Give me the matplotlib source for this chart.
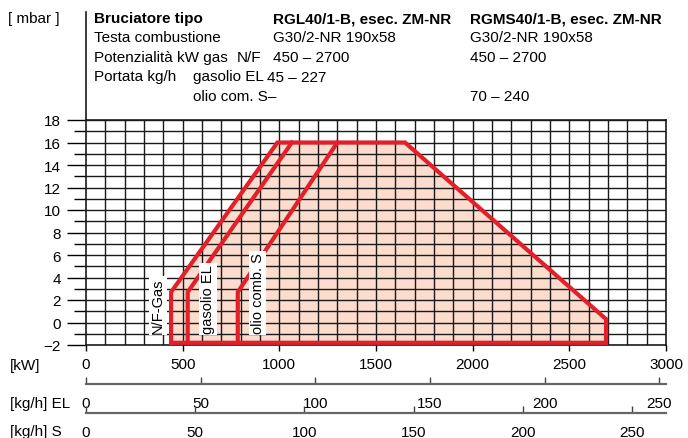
import matplotlib
matplotlib.use("Agg")
import matplotlib.pyplot as plt
from matplotlib.lines import Line2D
import numpy as np

plt.rcParams['font.family'] = ['Liberation Sans', 'DejaVu Sans']

# -----------------------------
# Data
# -----------------------------
# working field outline for N/F gas [kW, mbar]
nf_kw = [440, 440, 990, 1650, 2690, 2690, 440]
nf_mbar = [-1.8, 2.7, 16, 16, 0.3, -1.8, -1.8]
# left branches for light oil (EL) and heavy oil (S)
el_kw = [526, 526, 1065]
el_mbar = [-1.8, 2.7, 16]
s_kw = [785, 785, 1300]
s_mbar = [-1.8, 2.7, 16]

kw_ticks = [0, 500, 1000, 1500, 2000, 2500, 3000]
mbar_ticks = [-2, 0, 2, 4, 6, 8, 10, 12, 14, 16, 18]
kgh_ticks = [0, 50, 100, 150, 200, 250]
kw_per_kgh_el = 11.86
kw_per_kgh_s = 11.3

field_labels = ["N/F-Gas", "gasolio EL", "olio comb. S"]
field_label_kw = [372, 631, 888]

header_rows = [
    ("Bruciatore tipo", "", "RGL40/1-B, esec. ZM-NR", "RGMS40/1-B, esec. ZM-NR"),
    ("Testa combustione", "", "G30/2-NR 190x58", "G30/2-NR 190x58"),
    ("Potenzialità kW gas", "N/F", "450 – 2700", "450 – 2700"),
    ("Portata kg/h", "gasolio EL", "45 – 227", ""),
    ("", "olio com. S–", "", "70 – 240"),
]

RED = "#e3202a"
FILL = "#fcdccd"
W, H = 688, 439
FS = 11

fig = plt.figure(figsize=(W / 100, H / 100), dpi=100)


def fx(px):
    return px / W


def fy(py):
    return 1 - py / H


# -----------------------------
# Main chart
# -----------------------------
ax = fig.add_axes([fx(86), fy(346), fx(666) - fx(86), fy(121) - fy(346)])
ax.set_xlim(0, 3000)
ax.set_ylim(-2, 18)

for v in np.arange(100, 3000, 100):
    ax.axvline(v, color="#1a1a1a", lw=1.0, zorder=1)
for v in np.arange(-1, 19, 1):
    ax.axhline(v, color="#1a1a1a", lw=1.0, zorder=1)

ax.fill(nf_kw, nf_mbar, color=FILL, lw=0, zorder=0.5)
ax.plot(nf_kw, nf_mbar, color=RED, lw=3, solid_joinstyle="miter", zorder=3)
ax.plot(el_kw, el_mbar, color=RED, lw=3, solid_joinstyle="miter", zorder=3)
ax.plot(s_kw, s_mbar, color=RED, lw=3, solid_joinstyle="miter", zorder=3)

for lab, xk in zip(field_labels, field_label_kw):
    ax.text(xk, -0.95, lab, rotation=90, ha="center", va="bottom", fontsize=10.5,
            bbox=dict(facecolor="white", edgecolor="none", pad=1.2), zorder=4)

ax.set_xticks(kw_ticks)
ax.set_xticklabels([str(t) for t in kw_ticks])
ax.set_yticks(mbar_ticks)
ax.set_yticks(np.arange(-1, 18, 2), minor=True)
ax.tick_params(axis="x", direction="out", length=4, width=1, pad=5, labelsize=FS)
ax.tick_params(axis="y", which="major", direction="out", length=14, width=1, pad=4,
               labelsize=FS)
ax.tick_params(axis="y", which="minor", direction="out", length=9, width=1)
for s in ax.spines.values():
    s.set_linewidth(1.2)
    s.set_color("#1a1a1a")

# left spine continues up through the header block
fig.add_artist(Line2D([fx(86), fx(86)], [fy(121), fy(13)], color="#1a1a1a", lw=1.2))

# -----------------------------
# Secondary kg/h scales
# -----------------------------
def kgh_axis(y_px, factor, name, label_y):
    a = fig.add_axes([fx(86), fy(y_px), fx(666) - fx(86), 0.0001])
    a.set_xlim(0, 3000 / factor)
    a.set_ylim(0, 1)
    a.set_yticks([])
    for k in ["top", "left", "right"]:
        a.spines[k].set_visible(False)
    a.spines["bottom"].set_color("#666666")
    a.spines["bottom"].set_linewidth(1.6)
    a.set_xticks(kgh_ticks)
    a.tick_params(axis="x", direction="in", length=5, width=1, color="#444444",
                  pad=9, labelsize=FS)
    fig.text(fx(10), fy(label_y), name, fontsize=FS, ha="left", va="center")
    return a


kgh_axis(385, kw_per_kgh_el, "[kg/h] EL", 404)
kgh_axis(414, kw_per_kgh_s, "[kg/h] S", 432)
fig.text(fx(10), fy(366), "[kW]", fontsize=FS, ha="left", va="center")

# -----------------------------
# Header block
# -----------------------------
fig.text(fx(8), fy(19), "[ mbar ]", fontsize=FS, ha="left", va="center")
row_y = [19, 38.5, 58, 77.5, 97]
for i, (c1, c2, c3, c4) in enumerate(header_rows):
    weight = "bold" if i == 0 else "normal"
    sub_x = 237 if i == 2 else 193
    fig.text(fx(94), fy(row_y[i]), c1, fontsize=FS, ha="left", va="center", weight=weight)
    fig.text(fx(sub_x), fy(row_y[i]), c2, fontsize=FS, ha="left", va="center")
    c3_x = 267 if i == 3 else 273
    fig.text(fx(c3_x), fy(row_y[i]), c3, fontsize=FS, ha="left", va="center", weight=weight)
    fig.text(fx(470), fy(row_y[i]), c4, fontsize=FS, ha="left", va="center", weight=weight)

fig.savefig("out.png", dpi=100)
